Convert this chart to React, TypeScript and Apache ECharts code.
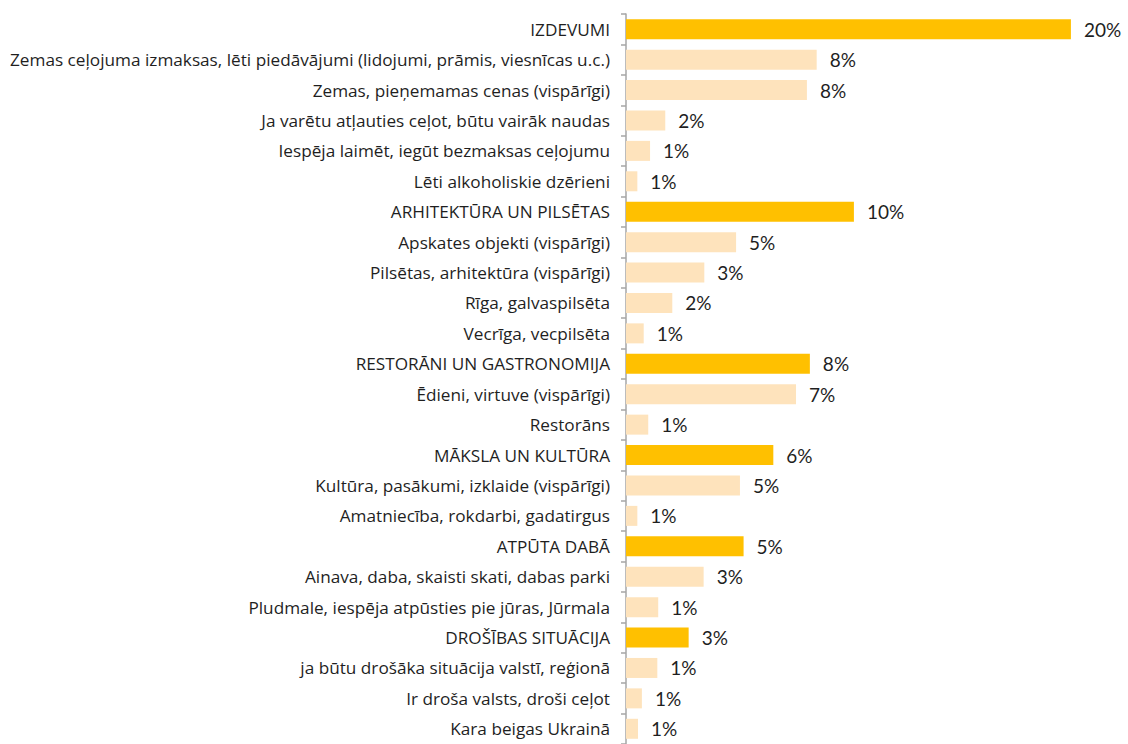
import React, { useEffect, useRef } from "react";
import * as echarts from "echarts";

const categories: string[] = [
  "IZDEVUMI",
  "Zemas ceļojuma izmaksas, lēti piedāvājumi (lidojumi, prāmis, viesnīcas u.c.)",
  "Zemas, pieņemamas cenas (vispārīgi)",
  "Ja varētu atļauties ceļot, būtu vairāk naudas",
  "Iespēja laimēt, iegūt bezmaksas ceļojumu",
  "Lēti alkoholiskie dzērieni",
  "ARHITEKTŪRA UN PILSĒTAS",
  "Apskates objekti (vispārīgi)",
  "Pilsētas, arhitektūra (vispārīgi)",
  "Rīga, galvaspilsēta",
  "Vecrīga, vecpilsēta",
  "RESTORĀNI UN GASTRONOMIJA",
  "Ēdieni, virtuve (vispārīgi)",
  "Restorāns",
  "MĀKSLA UN KULTŪRA",
  "Kultūra, pasākumi, izklaide (vispārīgi)",
  "Amatniecība, rokdarbi, gadatirgus",
  "ATPŪTA DABĀ",
  "Ainava, daba, skaisti skati, dabas parki",
  "Pludmale, iespēja atpūsties pie jūras, Jūrmala",
  "DROŠĪBAS SITUĀCIJA",
  "ja būtu drošāka situācija valstī, reģionā",
  "Ir droša valsts, droši ceļot",
  "Kara beigas Ukrainā",
];

// percent values
const values: number[] = [
  19.6, 8.4, 7.97, 1.73, 1.06, 0.5,
  10.04, 4.85, 3.45, 2.04, 0.78,
  8.1, 7.49, 0.98,
  6.49, 5.02, 0.5,
  5.18, 3.42, 1.42,
  2.76, 1.38, 0.7, 0.53,
];

// true = group header (dark bar)
const isHeader: boolean[] = [
  true, false, false, false, false, false,
  true, false, false, false, false,
  true, false, false,
  true, false, false,
  true, false, false,
  true, false, false, false,
];

const HEADER_COLOR = "#FFC000";
const ITEM_COLOR = "#FEE3BC";

export default function App() {
  const ref = useRef<HTMLDivElement>(null);

  useEffect(() => {
    if (!ref.current) return;
    const chart = echarts.init(ref.current, null, { renderer: "svg" });
    chart.setOption({
      animation: false,
      backgroundColor: "#ffffff",
      grid: { left: 626, top: 14, width: 454, height: 733, containLabel: false },
      xAxis: {
        type: "value",
        min: 0,
        max: 20,
        show: false,
      },
      yAxis: {
        type: "category",
        inverse: true,
        data: categories,
        axisLine: { show: true, lineStyle: { color: "#A6A6A6", width: 1.5 } },
        axisTick: { show: true, length: 5, lineStyle: { color: "#A6A6A6", width: 1.5 } },
        axisLabel: {
          margin: 16,
          color: "#1f1f1f",
          fontFamily: "Open Sans",
          fontSize: 17.2,
        },
        splitLine: { show: false },
      },
      series: [
        {
          type: "bar",
          barWidth: 20,
          data: values.map((v, i) => ({
            value: v,
            itemStyle: { color: isHeader[i] ? HEADER_COLOR : ITEM_COLOR },
          })),
          label: {
            show: true,
            position: "right",
            distance: 13,
            color: "#1f1f1f",
            fontFamily: "Lato",
            fontSize: 19,
            formatter: (p: any) => Math.round(p.value) + "%",
          },
        },
      ],
    });
    return () => chart.dispose();
  }, []);

  return (
    <div
      ref={ref}
      style={{ position: "fixed", left: 0, top: 0, width: 1128, height: 744 }}
    />
  );
}
